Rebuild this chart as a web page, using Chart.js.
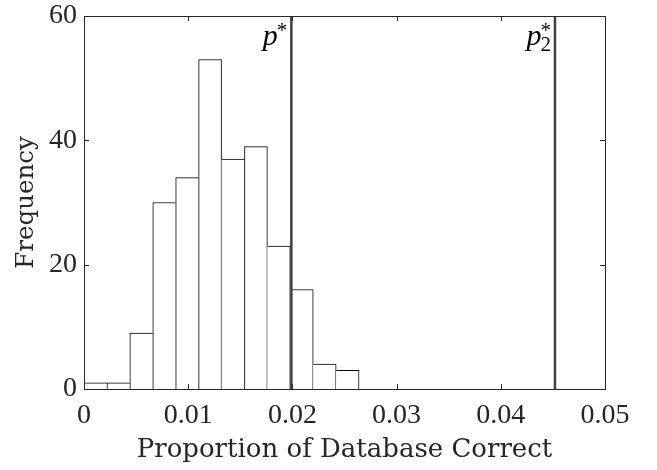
<!DOCTYPE html>
<html>
<head>
<meta charset="utf-8">
<script src="https://cdn.jsdelivr.net/npm/chart.js@4"></script>
<style>
    html, body { margin: 0; padding: 0; background: #fff; }
    #wrap { width: 657px; height: 470px; position: relative; }
</style>
</head>
<body>
<div id="wrap"><canvas id="histChart"></canvas></div>
<script>
// histogram bins (left edges) and counts
const binEdges = [0, 0.0022, 0.0044, 0.0066, 0.0088, 0.0110, 0.0132, 0.0154, 0.0176, 0.0198, 0.0220, 0.0242, 0.0264];
const counts = [1, 1, 9, 30, 34, 53, 37, 39, 23, 16, 4, 3];

// reference lines
const refNames = ['p', 'p'];
const refSubs = ['', '2'];
const refValues = [0.0199, 0.0452];

const xTicks = [0, 0.01, 0.02, 0.03, 0.04, 0.05];
const yTicks = [0, 20, 40, 60];

const SERIF = "'Liberation Serif', 'DejaVu Serif', serif";
const WIDE_SERIF = "'DejaVu Serif', 'Liberation Serif', serif";
const INK = '#262626';

const barData = counts.map((c, i) => ({ x: (binEdges[i] + binEdges[i + 1]) / 2, y: c }));

// draw each shared edge only once, by the taller neighbour
const edgeWidths = (ctx) => {
    const i = ctx.dataIndex;
    const h = counts[i];
    const prev = i > 0 ? counts[i - 1] : -1;
    const next = i < counts.length - 1 ? counts[i + 1] : -1;
    return {
        top: 1,
        bottom: 0,
        left: (i === 0 || h >= prev) ? 1 : 0,
        right: (i === counts.length - 1 || next < h) ? 1 : 0
    };
};

const lineDatasets = refValues.map(v => ({
    type: 'line',
    data: [{ x: v, y: 0 }, { x: v, y: 60 }],
    borderColor: '#404040',
    borderWidth: 2.5,
    pointRadius: 0,
    order: 0
}));

const frameAndLabels = {
    id: 'frameAndLabels',
    afterDraw(chart) {
        const { ctx, chartArea: a, scales: { x, y } } = chart;
        ctx.save();
        ctx.strokeStyle = INK;
        ctx.lineWidth = 1;
        ctx.strokeRect(a.left + 0.5, a.top + 0.5, a.right - a.left, a.bottom - a.top);

        // inward ticks, mirrored on top and right
        ctx.beginPath();
        xTicks.forEach(t => {
            const px = Math.round(x.getPixelForValue(t)) + 0.5;
            ctx.moveTo(px, a.bottom); ctx.lineTo(px, a.bottom - 5);
            ctx.moveTo(px, a.top); ctx.lineTo(px, a.top + 5);
        });
        yTicks.forEach(t => {
            const py = Math.round(y.getPixelForValue(t)) + 0.5;
            ctx.moveTo(a.left, py); ctx.lineTo(a.left + 5, py);
            ctx.moveTo(a.right, py); ctx.lineTo(a.right - 5, py);
        });
        ctx.stroke();

        // p* labels to the left of each line
        ctx.fillStyle = '#000';
        ctx.textBaseline = 'alphabetic';
        ctx.textAlign = 'left';
        refValues.forEach((v, i) => {
            const px = x.getPixelForValue(v);
            ctx.font = 'italic 30px ' + SERIF;
            const pw = ctx.measureText(refNames[i]).width;
            ctx.font = '21px ' + SERIF;
            const sw = Math.max(ctx.measureText('*').width, ctx.measureText(refSubs[i]).width);
            const right = px - 4;
            const base = 45;
            ctx.font = 'italic 30px ' + SERIF;
            ctx.fillText(refNames[i], right - sw - pw + 1, base);
            ctx.font = '21px ' + SERIF;
            ctx.fillText('*', right - sw, base - 8);
            if (refSubs[i]) ctx.fillText(refSubs[i], right - sw, base + 6);
        });
        ctx.restore();
    }
};

new Chart(document.getElementById('histChart').getContext('2d'), {
    type: 'bar',
    data: {
        datasets: [{
            data: barData,
            backgroundColor: '#ffffff',
            borderColor: '#000000',
            borderWidth: edgeWidths,
            borderSkipped: false,
            barPercentage: 1,
            categoryPercentage: 1,
            order: 1
        }, ...lineDatasets]
    },
    options: {
        responsive: true,
        maintainAspectRatio: false,
        animation: false,
        layout: { padding: { top: 16, right: 52, left: 0, bottom: 0 } },
        plugins: {
            legend: { display: false },
            tooltip: { enabled: false }
        },
        scales: {
            x: {
                type: 'linear',
                min: 0,
                max: 0.05,
                offset: false,
                afterFit: (s) => { s.height = 81; s.paddingLeft = 0; s.paddingRight = 0; },
                afterBuildTicks: (s) => { s.ticks = xTicks.map(v => ({ value: v })); },
                grid: { display: false, drawTicks: false },
                border: { display: false },
                ticks: {
                    color: INK,
                    padding: 10,
                    maxRotation: 0,
                    font: { family: SERIF, size: 28 },
                    callback: (v) => v === 0 ? '0' : v.toFixed(2)
                },
                title: {
                    display: true,
                    text: 'Proportion of Database Correct',
                    color: INK,
                    font: { family: WIDE_SERIF, size: 26 },
                    padding: { top: 0, bottom: 4 }
                }
            },
            y: {
                min: 0,
                max: 60,
                afterFit: (s) => { s.width = 84; s.paddingTop = 0; s.paddingBottom = 0; },
                afterBuildTicks: (s) => { s.ticks = yTicks.map(v => ({ value: v })); },
                grid: { display: false, drawTicks: false },
                border: { display: false },
                ticks: {
                    color: INK,
                    padding: 7,
                    font: { family: SERIF, size: 28 }
                },
                title: {
                    display: true,
                    text: 'Frequency',
                    color: INK,
                    font: { family: WIDE_SERIF, size: 24.5 },
                    padding: { top: 12, bottom: 0 }
                }
            }
        }
    },
    plugins: [frameAndLabels]
});
</script>
</body>
</html>
